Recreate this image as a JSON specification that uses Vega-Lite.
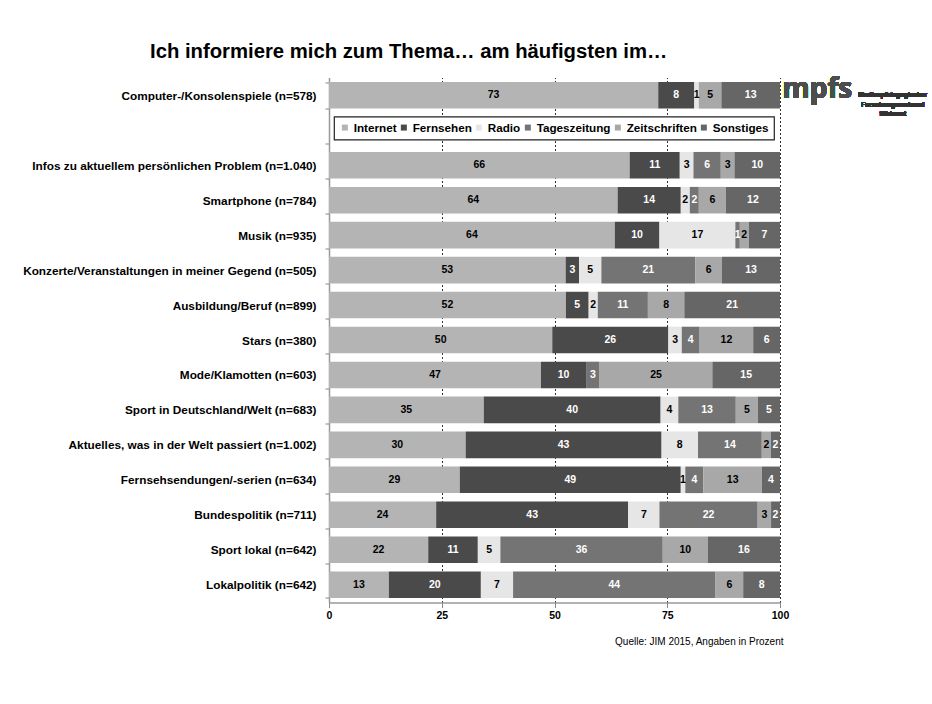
{
  "$schema": "https://vega.github.io/schema/vega-lite/v6.json",
  "width": 451,
  "height": 525,
  "autosize": {"type": "none"},
  "padding": {"left": 329, "top": 77.5, "right": 152, "bottom": 101.5},
  "background": "white",
  "title": {
    "text": "Ich informiere mich zum Thema… am häufigsten im…",
    "anchor": "start",
    "frame": "group",
    "dx": -179,
    "dy": 26,
    "offset": 20,
    "baseline": "alphabetic",
    "font": "Liberation Sans",
    "fontSize": 20.3,
    "fontWeight": "bold",
    "color": "black"
  },
  "config": {
    "view": {"stroke": null},
    "font": "Liberation Sans",
    "legend": {
      "orient": "none",
      "legendX": 5,
      "legendY": 39,
      "direction": "horizontal",
      "columns": 6,
      "title": null,
      "symbolType": "square",
      "symbolSize": 36,
      "symbolStrokeWidth": 0,
      "labelFont": "Liberation Sans",
      "labelFontSize": 11.7,
      "labelFontWeight": "bold",
      "labelColor": "black",
      "labelOffset": 3,
      "columnPadding": 1,
      "padding": 5,
      "strokeColor": "#222",
      "strokeWidth": 1.2,
      "fillColor": "white"
    }
  },
  "data": {
    "values": [
      {"topic": "Computer-/Konsolenspiele (n=578)", "medium": "Internet", "value": 73},
      {"topic": "Computer-/Konsolenspiele (n=578)", "medium": "Fernsehen", "value": 8},
      {"topic": "Computer-/Konsolenspiele (n=578)", "medium": "Radio", "value": 1},
      {"topic": "Computer-/Konsolenspiele (n=578)", "medium": "Zeitschriften", "value": 5},
      {"topic": "Computer-/Konsolenspiele (n=578)", "medium": "Sonstiges", "value": 13},
      {"topic": "Infos zu aktuellem persönlichen Problem (n=1.040)", "medium": "Internet", "value": 66},
      {"topic": "Infos zu aktuellem persönlichen Problem (n=1.040)", "medium": "Fernsehen", "value": 11},
      {"topic": "Infos zu aktuellem persönlichen Problem (n=1.040)", "medium": "Radio", "value": 3},
      {"topic": "Infos zu aktuellem persönlichen Problem (n=1.040)", "medium": "Tageszeitung", "value": 6},
      {"topic": "Infos zu aktuellem persönlichen Problem (n=1.040)", "medium": "Zeitschriften", "value": 3},
      {"topic": "Infos zu aktuellem persönlichen Problem (n=1.040)", "medium": "Sonstiges", "value": 10},
      {"topic": "Smartphone (n=784)", "medium": "Internet", "value": 64},
      {"topic": "Smartphone (n=784)", "medium": "Fernsehen", "value": 14},
      {"topic": "Smartphone (n=784)", "medium": "Radio", "value": 2},
      {"topic": "Smartphone (n=784)", "medium": "Tageszeitung", "value": 2},
      {"topic": "Smartphone (n=784)", "medium": "Zeitschriften", "value": 6},
      {"topic": "Smartphone (n=784)", "medium": "Sonstiges", "value": 12},
      {"topic": "Musik (n=935)", "medium": "Internet", "value": 64},
      {"topic": "Musik (n=935)", "medium": "Fernsehen", "value": 10},
      {"topic": "Musik (n=935)", "medium": "Radio", "value": 17},
      {"topic": "Musik (n=935)", "medium": "Tageszeitung", "value": 1},
      {"topic": "Musik (n=935)", "medium": "Zeitschriften", "value": 2},
      {"topic": "Musik (n=935)", "medium": "Sonstiges", "value": 7},
      {"topic": "Konzerte/Veranstaltungen in meiner Gegend (n=505)", "medium": "Internet", "value": 53},
      {"topic": "Konzerte/Veranstaltungen in meiner Gegend (n=505)", "medium": "Fernsehen", "value": 3},
      {"topic": "Konzerte/Veranstaltungen in meiner Gegend (n=505)", "medium": "Radio", "value": 5},
      {"topic": "Konzerte/Veranstaltungen in meiner Gegend (n=505)", "medium": "Tageszeitung", "value": 21},
      {"topic": "Konzerte/Veranstaltungen in meiner Gegend (n=505)", "medium": "Zeitschriften", "value": 6},
      {"topic": "Konzerte/Veranstaltungen in meiner Gegend (n=505)", "medium": "Sonstiges", "value": 13},
      {"topic": "Ausbildung/Beruf (n=899)", "medium": "Internet", "value": 52},
      {"topic": "Ausbildung/Beruf (n=899)", "medium": "Fernsehen", "value": 5},
      {"topic": "Ausbildung/Beruf (n=899)", "medium": "Radio", "value": 2},
      {"topic": "Ausbildung/Beruf (n=899)", "medium": "Tageszeitung", "value": 11},
      {"topic": "Ausbildung/Beruf (n=899)", "medium": "Zeitschriften", "value": 8},
      {"topic": "Ausbildung/Beruf (n=899)", "medium": "Sonstiges", "value": 21},
      {"topic": "Stars (n=380)", "medium": "Internet", "value": 50},
      {"topic": "Stars (n=380)", "medium": "Fernsehen", "value": 26},
      {"topic": "Stars (n=380)", "medium": "Radio", "value": 3},
      {"topic": "Stars (n=380)", "medium": "Tageszeitung", "value": 4},
      {"topic": "Stars (n=380)", "medium": "Zeitschriften", "value": 12},
      {"topic": "Stars (n=380)", "medium": "Sonstiges", "value": 6},
      {"topic": "Mode/Klamotten (n=603)", "medium": "Internet", "value": 47},
      {"topic": "Mode/Klamotten (n=603)", "medium": "Fernsehen", "value": 10},
      {"topic": "Mode/Klamotten (n=603)", "medium": "Tageszeitung", "value": 3},
      {"topic": "Mode/Klamotten (n=603)", "medium": "Zeitschriften", "value": 25},
      {"topic": "Mode/Klamotten (n=603)", "medium": "Sonstiges", "value": 15},
      {"topic": "Sport in Deutschland/Welt (n=683)", "medium": "Internet", "value": 35},
      {"topic": "Sport in Deutschland/Welt (n=683)", "medium": "Fernsehen", "value": 40},
      {"topic": "Sport in Deutschland/Welt (n=683)", "medium": "Radio", "value": 4},
      {"topic": "Sport in Deutschland/Welt (n=683)", "medium": "Tageszeitung", "value": 13},
      {"topic": "Sport in Deutschland/Welt (n=683)", "medium": "Zeitschriften", "value": 5},
      {"topic": "Sport in Deutschland/Welt (n=683)", "medium": "Sonstiges", "value": 5},
      {"topic": "Aktuelles, was in der Welt passiert (n=1.002)", "medium": "Internet", "value": 30},
      {"topic": "Aktuelles, was in der Welt passiert (n=1.002)", "medium": "Fernsehen", "value": 43},
      {"topic": "Aktuelles, was in der Welt passiert (n=1.002)", "medium": "Radio", "value": 8},
      {"topic": "Aktuelles, was in der Welt passiert (n=1.002)", "medium": "Tageszeitung", "value": 14},
      {"topic": "Aktuelles, was in der Welt passiert (n=1.002)", "medium": "Zeitschriften", "value": 2},
      {"topic": "Aktuelles, was in der Welt passiert (n=1.002)", "medium": "Sonstiges", "value": 2},
      {"topic": "Fernsehsendungen/-serien (n=634)", "medium": "Internet", "value": 29},
      {"topic": "Fernsehsendungen/-serien (n=634)", "medium": "Fernsehen", "value": 49},
      {"topic": "Fernsehsendungen/-serien (n=634)", "medium": "Radio", "value": 1},
      {"topic": "Fernsehsendungen/-serien (n=634)", "medium": "Tageszeitung", "value": 4},
      {"topic": "Fernsehsendungen/-serien (n=634)", "medium": "Zeitschriften", "value": 13},
      {"topic": "Fernsehsendungen/-serien (n=634)", "medium": "Sonstiges", "value": 4},
      {"topic": "Bundespolitik (n=711)", "medium": "Internet", "value": 24},
      {"topic": "Bundespolitik (n=711)", "medium": "Fernsehen", "value": 43},
      {"topic": "Bundespolitik (n=711)", "medium": "Radio", "value": 7},
      {"topic": "Bundespolitik (n=711)", "medium": "Tageszeitung", "value": 22},
      {"topic": "Bundespolitik (n=711)", "medium": "Zeitschriften", "value": 3},
      {"topic": "Bundespolitik (n=711)", "medium": "Sonstiges", "value": 2},
      {"topic": "Sport lokal (n=642)", "medium": "Internet", "value": 22},
      {"topic": "Sport lokal (n=642)", "medium": "Fernsehen", "value": 11},
      {"topic": "Sport lokal (n=642)", "medium": "Radio", "value": 5},
      {"topic": "Sport lokal (n=642)", "medium": "Tageszeitung", "value": 36},
      {"topic": "Sport lokal (n=642)", "medium": "Zeitschriften", "value": 10},
      {"topic": "Sport lokal (n=642)", "medium": "Sonstiges", "value": 16},
      {"topic": "Lokalpolitik (n=642)", "medium": "Internet", "value": 13},
      {"topic": "Lokalpolitik (n=642)", "medium": "Fernsehen", "value": 20},
      {"topic": "Lokalpolitik (n=642)", "medium": "Radio", "value": 7},
      {"topic": "Lokalpolitik (n=642)", "medium": "Tageszeitung", "value": 44},
      {"topic": "Lokalpolitik (n=642)", "medium": "Zeitschriften", "value": 6},
      {"topic": "Lokalpolitik (n=642)", "medium": "Sonstiges", "value": 8}
    ]
  },
  "transform": [
    {"calculate": "indexof(['Internet','Fernsehen','Radio','Tageszeitung','Zeitschriften','Sonstiges'], datum.medium)", "as": "k"}
  ],
  "encoding": {
    "y": {
      "field": "topic",
      "type": "nominal",
      "title": null,
      "scale": {
        "domain": [
          "Computer-/Konsolenspiele (n=578)",
          " ",
          "Infos zu aktuellem persönlichen Problem (n=1.040)",
          "Smartphone (n=784)",
          "Musik (n=935)",
          "Konzerte/Veranstaltungen in meiner Gegend (n=505)",
          "Ausbildung/Beruf (n=899)",
          "Stars (n=380)",
          "Mode/Klamotten (n=603)",
          "Sport in Deutschland/Welt (n=683)",
          "Aktuelles, was in der Welt passiert (n=1.002)",
          "Fernsehsendungen/-serien (n=634)",
          "Bundespolitik (n=711)",
          "Sport lokal (n=642)",
          "Lokalpolitik (n=642)"
        ],
        "paddingInner": 0.24,
        "paddingOuter": 0.13
      },
      "axis": {
        "labelFont": "Liberation Sans",
        "labelFontSize": 11.8,
        "labelFontWeight": "bold",
        "labelColor": "black",
        "labelLimit": 400,
        "labelPadding": 9,
        "tickBand": "extent",
        "tickSize": 4,
        "tickColor": "#888",
        "domainColor": "#999",
        "domainWidth": 1.5,
        "grid": false
      }
    }
  },
  "layer": [
    {
      "mark": {"type": "bar"},
      "encoding": {
        "x": {
          "field": "value",
          "type": "quantitative",
          "stack": "normalize",
          "scale": {"domain": [0, 1]},
          "axis": {
            "title": "Quelle: JIM 2015, Angaben in Prozent",
            "titleFont": "Liberation Sans",
            "titleFontSize": 10,
            "titleFontWeight": "normal",
            "titleColor": "black",
            "titleX": 454,
            "titleY": 39,
            "titleAlign": "right",
            "titleBaseline": "middle",
            "values": [0, 0.25, 0.5, 0.75, 1],
            "labelExpr": "format(datum.value * 100, 'd')",
            "labelFont": "Liberation Sans",
            "labelFontSize": 10.5,
            "labelFontWeight": "bold",
            "labelColor": "black",
            "labelPadding": 3,
            "labelFlush": false,
            "tickSize": 5,
            "tickColor": "#888",
            "domainColor": "#999",
            "domainWidth": 1.5,
            "grid": true,
            "gridColor": "#333",
            "gridDash": [2, 2],
            "gridWidth": 1
          }
        },
        "color": {
          "field": "medium",
          "type": "nominal",
          "sort": ["Internet", "Fernsehen", "Radio", "Tageszeitung", "Zeitschriften", "Sonstiges"],
          "scale": {
            "domain": ["Internet", "Fernsehen", "Radio", "Tageszeitung", "Zeitschriften", "Sonstiges"],
            "range": ["#b4b4b4", "#4a4a4a", "#e6e6e6", "#747474", "#a8a8a8", "#666666"]
          }
        },
        "order": {"field": "k", "type": "quantitative"}
      }
    },
    {
      "mark": {"type": "text", "font": "Liberation Sans", "fontSize": 10.5, "fontWeight": "bold", "baseline": "middle"},
      "encoding": {
        "x": {"field": "value", "type": "quantitative", "stack": "normalize", "bandPosition": 0.5},
        "detail": {"field": "medium", "type": "nominal"},
        "order": {"field": "k", "type": "quantitative"},
        "text": {"field": "value", "type": "quantitative"},
        "color": {
          "condition": {"test": "datum.medium === 'Fernsehen' || datum.medium === 'Tageszeitung' || datum.medium === 'Sonstiges'", "value": "white"},
          "value": "black"
        }
      }
    },
    {
      "mark": {"type": "text", "font": "Open Sans", "fontSize": 28, "fontWeight": "bold", "align": "left", "baseline": "alphabetic", "dy": 3, "color": "#4d4d4d"},
      "encoding": {
        "x": {"datum": 1.005},
        "y": {"datum": "Computer-/Konsolenspiele (n=578)"},
        "text": {"value": "mpfs"}
      }
    },
    {
      "mark": {"type": "text", "font": "Liberation Sans", "fontSize": 6.5, "fontWeight": "bold", "align": "center", "baseline": "middle", "lineHeight": 9.2, "dy": 0, "color": "#333"},
      "encoding": {
        "x": {"datum": 1.25},
        "y": {"datum": "Computer-/Konsolenspiele (n=578)"},
        "text": {"value": ["Medienpädagogischer", "Forschungsverbund", "Südwest"]}
      }
    }
  ]
}
